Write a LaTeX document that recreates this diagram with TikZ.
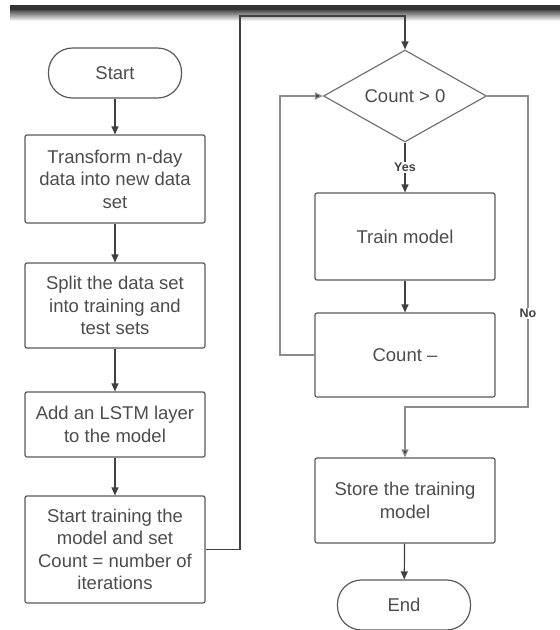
\documentclass[tikz,border=0pt]{standalone}
\usepackage{fontspec}
\setmainfont{Liberation Sans}
\usetikzlibrary{shapes.geometric,arrows.meta}

\begin{document}
\begin{tikzpicture}[x=1pt,y=-1pt,
		box/.style={draw=black!65, line width=1.2pt, rounded corners=2pt, minimum width=180pt, align=center, text=black!70, inner sep=0pt, font=\fontsize{18.5}{22.5}\selectfont},
		term/.style={draw=black!65, line width=1.2pt, rounded corners=24pt, minimum width=133pt, minimum height=50pt, text=black!70, font=\fontsize{18.5}{22.5}\selectfont},
		flow/.style={draw=black!75, line width=1.2pt, -{Triangle[length=8pt,width=7pt]}},
		loopline/.style={draw=black!45, line width=1.2pt, -{Triangle[length=8pt,width=7pt,fill=black!75]}},
		lbl/.style={fill=white, inner sep=1pt, text=black!75, font=\fontsize{12.5}{14}\selectfont\bfseries}]
		\useasboundingbox (0,0) rectangle (560,630);
		\fill[black!80] (10,5) rectangle (560,10);
		\shade[top color=black!70, bottom color=white] (10,10) rectangle (560,21);

		\node[term] (start) at (115,73) {Start};
		\node[box, minimum height=88pt] (transform) at (115,179) {Transform n-day\\data into new data\\set};
		\node[box, minimum height=85pt] (split) at (115,305.5) {Split the data set\\into training and\\test sets};
		\node[box, minimum height=65pt] (lstm) at (115,424.5) {Add an LSTM layer\\to the model};
		\node[box, minimum height=107pt] (begin) at (115,549.5) {Start training the\\model and set\\Count = number of\\iterations};

		\node[draw=black!55, line width=1.2pt, diamond, aspect=1.77, minimum width=163pt, minimum height=92pt, inner sep=0pt, text=black!70, font=\fontsize{18.5}{22.5}\selectfont] (check) at (405,96) {Count > 0};
		\node[box, minimum height=87pt] (train) at (405,236.5) {Train model};
		\node[box, minimum height=84pt] (count) at (405,355) {Count --};
		\node[box, minimum height=85pt] (store) at (405,500.5) {Store the training\\model};
		\node[term] (finish) at (404,605) {End};

		\coordinate (topcorner) at (240,16);
		\coordinate (loopcorner) at (280,96);
		\coordinate (nocorner) at (528,407);

		\draw[flow] (start) -- (transform);
		\draw[flow] (transform) -- (split);
		\draw[flow] (split) -- (lstm);
		\draw[flow] (lstm) -- (begin);
		\draw[flow] (begin.east) -| (topcorner) -| (check.north);
		\draw[flow] (check.south) -- node[lbl] {Yes} (train.north);
		\draw[flow] (train) -- (count);
		\draw[loopline] (count.west) -| (loopcorner) -- (check.west);
		\draw[loopline] (check.east) -| node[pos=0.85, lbl] {No} (nocorner) -| (store.north);
		\draw[flow] (store) -- (finish);
\end{tikzpicture}
\end{document}
